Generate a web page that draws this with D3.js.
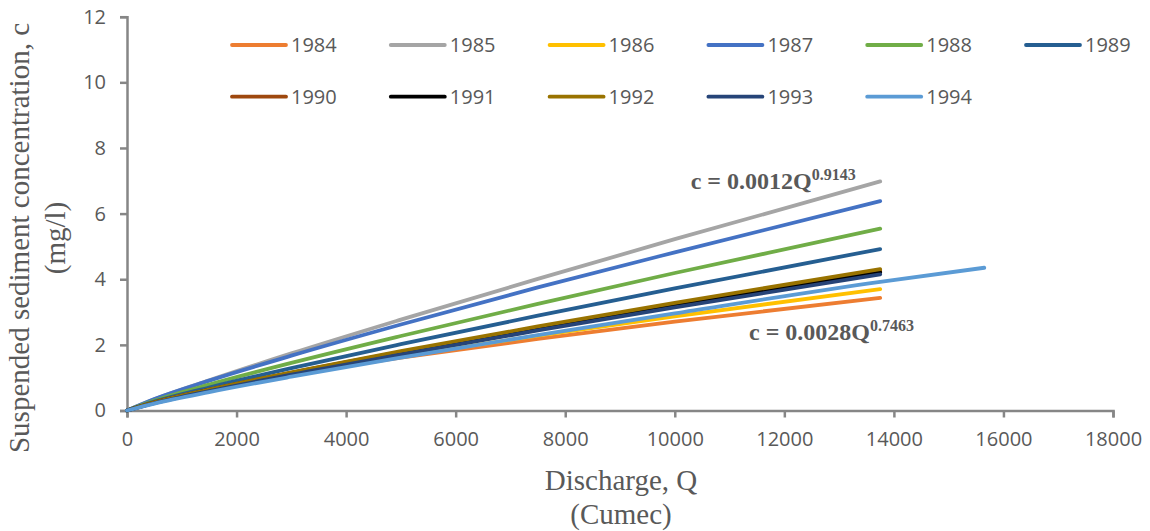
<!DOCTYPE html>
<html>
<head>
<meta charset="utf-8">
<script src="https://cdn.jsdelivr.net/npm/d3@7"></script>
<style>
  body { margin: 0; background: #fff; }
  #chart { width: 1150px; height: 531px; }
</style>
</head>
<body>
<div id="chart"></div>
<script>
// discharge (Cumec) sample points
const Q = [0, 500, 1500, 3000, 5000, 7500, 10000, 13750];
const Q1994 = [0, 500, 1500, 3000, 5000, 7500, 10000, 13750, 15650];

const years = ["1984", "1985", "1986", "1987", "1988", "1989", "1990", "1991", "1992", "1993", "1994"];
const colors = ["#ED7D31", "#A5A5A5", "#FFC000", "#4472C4", "#70AD47", "#255E91",
  "#9E480E", "#000000", "#997300", "#264478", "#5B9BD5"];

// suspended sediment concentration (mg/l)
const c1984 = [0, 0.29, 0.66, 1.10, 1.61, 2.18, 2.71, 3.43];
const c1985 = [0, 0.34, 0.92, 1.74, 2.77, 4.01, 5.22, 6.98];
const c1986 = [0, 0.26, 0.63, 1.09, 1.65, 2.28, 2.87, 3.70];
const c1987 = [0, 0.35, 0.91, 1.67, 2.62, 3.75, 4.82, 6.38];
const c1988 = [0, 0.30, 0.79, 1.45, 2.27, 3.25, 4.19, 5.54];
const c1989 = [0, 0.27, 0.70, 1.29, 2.02, 2.89, 3.72, 4.92];
const c1990 = [0, 0.25, 0.63, 1.15, 1.78, 2.52, 3.23, 4.25];
const c1991 = [0, 0.24, 0.63, 1.14, 1.76, 2.50, 3.20, 4.21];
const c1992 = [0, 0.25, 0.64, 1.16, 1.81, 2.56, 3.28, 4.31];
const c1993 = [0, 0.22, 0.59, 1.09, 1.70, 2.44, 3.14, 4.15];
const c1994 = [0, 0.21, 0.56, 1.03, 1.61, 2.30, 2.96, 3.92, 4.35];

const xTicks = [0, 2000, 4000, 6000, 8000, 10000, 12000, 14000, 16000, 18000];
const yTicks = [0, 2, 4, 6, 8, 10, 12];

const concs = [c1984, c1985, c1986, c1987, c1988, c1989, c1990, c1991, c1992, c1993, c1994];
const series = years.map((y, i) => ({
  year: y,
  color: colors[i],
  points: (y === "1994" ? Q1994 : Q).map((q, j) => [q, concs[i][j]])
}));

const width = 1150, height = 531;
const margin = { top: 16.7, right: 37, bottom: 120.5, left: 127 };
const grey = "#595959";
const axisGrey = "#868686";
const sans = "'Open Sans', sans-serif";
const serif = "'Liberation Serif', 'Times New Roman', serif";

const svg = d3.select("#chart").append("svg")
  .attr("width", width)
  .attr("height", height);

const x = d3.scaleLinear().domain([0, 18000]).range([margin.left, width - margin.right]);
const y = d3.scaleLinear().domain([0, 12]).range([height - margin.bottom, margin.top]);

// axes
const xAxis = svg.append("g")
  .attr("transform", `translate(0,${y(0)})`)
  .call(d3.axisBottom(x).tickValues(xTicks).tickFormat(d3.format("d"))
    .tickSize(7).tickPadding(14).tickSizeOuter(7));
const yAxis = svg.append("g")
  .attr("transform", `translate(${x(0)},0)`)
  .call(d3.axisLeft(y).tickValues(yTicks).tickSize(7).tickPadding(14).tickSizeOuter(7));

[xAxis, yAxis].forEach(a => {
  a.select(".domain").attr("stroke", axisGrey).attr("stroke-width", 2.5);
  a.selectAll(".tick line").attr("stroke", axisGrey).attr("stroke-width", 2.5);
  a.selectAll(".tick text")
    .attr("fill", grey)
    .style("font-family", sans)
    .style("font-size", "20px");
});

// lines
const line = d3.line()
  .x(d => x(d[0]))
  .y(d => y(d[1]))
  .curve(d3.curveMonotoneX);

svg.append("g")
  .selectAll("path")
  .data(series)
  .enter()
  .append("path")
  .attr("d", d => line(d.points))
  .attr("fill", "none")
  .attr("stroke", d => d.color)
  .attr("stroke-width", 3.8)
  .attr("stroke-linecap", "round");

// legend, 6 per row
const legend = svg.append("g")
  .selectAll("g")
  .data(series)
  .enter()
  .append("g")
  .attr("transform", (d, i) => `translate(${232 + (i % 6) * 158.8},${i < 6 ? 45 : 96.7})`);

legend.append("line")
  .attr("x1", 0).attr("x2", 54)
  .attr("stroke", d => d.color)
  .attr("stroke-width", 3.8)
  .attr("stroke-linecap", "round");

legend.append("text")
  .attr("x", 59)
  .attr("dy", "0.36em")
  .attr("fill", grey)
  .style("font-family", sans)
  .style("font-size", "20px")
  .text(d => d.year);

// equation labels
function equation(q, c, coef, exp) {
  const t = svg.append("text")
    .attr("x", x(q))
    .attr("y", y(c))
    .attr("fill", grey)
    .style("font-family", serif)
    .style("font-weight", "bold")
    .style("font-size", "24px");
  t.append("tspan").text("c = " + coef + "Q");
  t.append("tspan").attr("dy", -9).style("font-size", "16px").text(exp);
}
equation(10290, 6.75, "0.0012", "0.9143");
equation(11355, 2.15, "0.0028", "0.7463");

// axis titles
const xTitle = svg.append("text")
  .attr("text-anchor", "middle")
  .attr("fill", grey)
  .style("font-family", serif)
  .style("font-size", "29px");
xTitle.append("tspan").attr("x", 621).attr("y", 490).text("Discharge, Q");
xTitle.append("tspan").attr("x", 621).attr("y", 524).text("(Cumec)");

const yTitle = svg.append("text")
  .attr("text-anchor", "middle")
  .attr("transform", "translate(0,238) rotate(-90)")
  .attr("fill", grey)
  .style("font-family", serif)
  .style("font-size", "29px");
yTitle.append("tspan").attr("x", 0).attr("y", 29).text("Suspended sediment concentration, c");
yTitle.append("tspan").attr("x", 0).attr("y", 65).text("(mg/l)");
</script>
</body>
</html>
